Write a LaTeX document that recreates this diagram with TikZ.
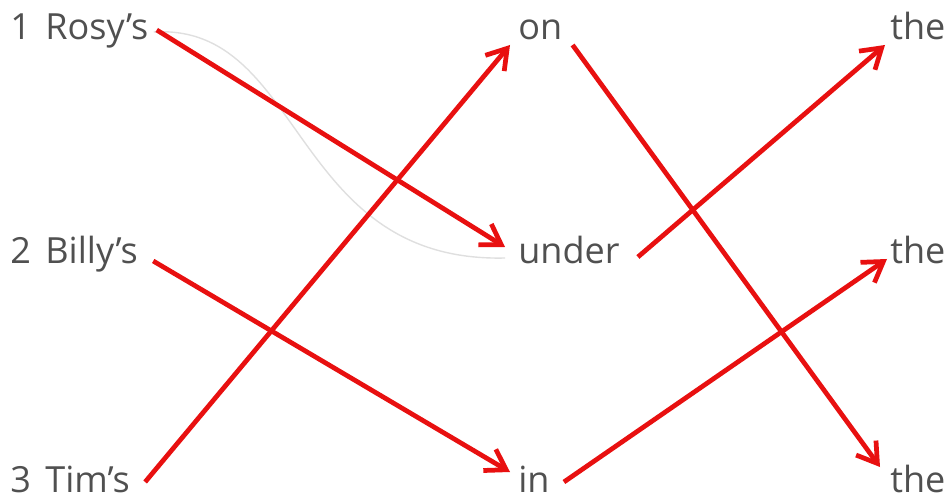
\documentclass[tikz,border=0pt]{standalone}
\usepackage{fontspec}
\setmainfont{Open Sans}
\usetikzlibrary{arrows.meta,positioning}
\definecolor{wordgrey}{RGB}{80,80,80}
\definecolor{linkred}{RGB}{232,16,16}

\begin{document}
\begin{tikzpicture}[
    word/.style={anchor=base west, inner sep=0pt, text=wordgrey, font=\fontsize{20.5}{24}\selectfont},
    link/.style={-{Straight Barb[length=11pt, width=14pt]}, draw=linkred, line width=2.7pt},
    pencil/.style={draw=gray!25, line width=0.8pt}]

    \useasboundingbox (0,0) rectangle (19,9.96);

    % Names
    \foreach \n/\y in {1/9.16, 2/4.68, 3/0.12}
        \node[word] (n\n) at (0.2, \y) {\n};
    \node[word] (rosy) at (0.9, 9.16) {Rosy’s};
    \node[word] (billy) at (0.9, 4.68) {Billy’s};
    \node[word] (tim) at (0.9, 0.12) {Tim’s};

    % Prepositions
    \node[word] (on) at (10.36, 9.16) {on};
    \node[word] (under) at (10.36, 4.68) {under};
    \node[word] (in) at (10.36, 0.12) {in};

    % Articles
    \foreach \t/\y in {1/9.16, 2/4.68, 3/0.12}
        \node[word] (the\t) at (17.8, \y) {the};

    % faint pencil line
    \draw[pencil] ([shift={(0.1,0.16)}]rosy.base east) .. controls (6.1,9.5) and (5.8,4.7) .. ([shift={(-0.26,0.12)}]under.base west);

    % Matching arrows
    \draw[link] ([shift={(0.16,0.2)}]rosy.base east) -- ([shift={(-0.26,0.34)}]under.base west);
    \draw[link] ([shift={(0.3,0.06)}]billy.base east) -- ([shift={(-0.16,0.4)}]in.base west);
    \draw[link] ([shift={(0.3,0.2)}]tim.base east) -- ([shift={(-0.16,-0.1)}]on.base west);

    \draw[link] ([shift={(0.2,-0.1)}]on.base east) -- ([shift={(-0.2,0.5)}]the3.base west);
    \draw[link] ([shift={(0.36,0.14)}]under.base east) -- ([shift={(-0.1,-0.1)}]the1.base west);
    \draw[link] ([shift={(0.28,0.2)}]in.base east) -- ([shift={(-0.06,0.1)}]the2.base west);
\end{tikzpicture}
\end{document}
